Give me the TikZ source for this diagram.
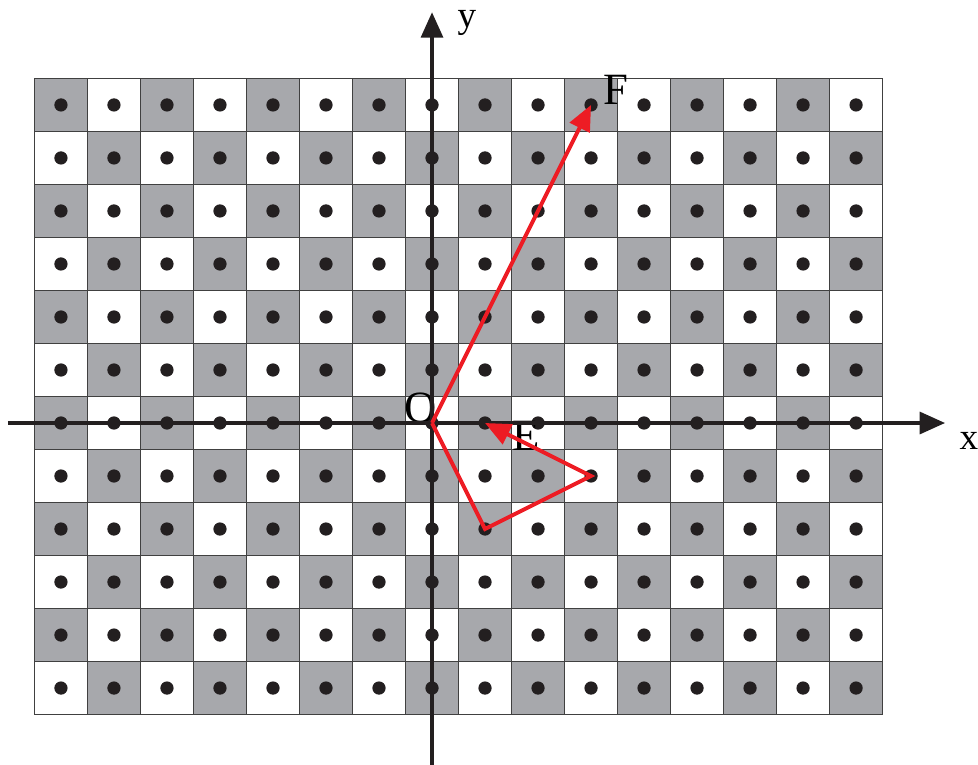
\documentclass[tikz,border=0pt]{standalone}
\usepackage{fontspec}
\setmainfont{Liberation Serif}
\usetikzlibrary{arrows.meta}
\definecolor{cellgray}{HTML}{A7A8AC}
\definecolor{gridline}{HTML}{404040}
\definecolor{dotblack}{HTML}{231F20}
\definecolor{vecred}{HTML}{ED1C24}

\begin{document}
\begin{tikzpicture}[
    cell/.style={draw=gridline, line width=0.8pt},
    dot/.style={circle, fill=dotblack, inner sep=0pt, minimum size=0.25cm},
    axis/.style={-{Triangle[length=0.48cm, width=0.41cm]}, line width=2.1pt, color=dotblack},
    vec/.style={-{Triangle[length=0.48cm, width=0.41cm]}, line width=2.1pt, color=vecred},
    biglbl/.style={font=\fontsize{24}{24}\selectfont, inner sep=0pt},
    axlbl/.style={font=\fontsize{20}{20}\selectfont, inner sep=0pt},
]
  \useasboundingbox (-8.15,-6.45) rectangle (10.3,7.98);

  % === Checkerboard with lattice points ===
  \foreach \i in {-7,...,8}
    \foreach \j in {-5,...,6}{
      \pgfmathtruncatemacro{\odd}{mod(\i+\j+20,2)}
      \ifnum\odd=1 \def\cellfill{cellgray}\else\def\cellfill{white}\fi
      \draw[cell, fill=\cellfill] (\i-0.5,\j-0.5) rectangle ++(1,1);
      \node[dot] (d\i x\j) at (\i,\j) {};
    }

  % === Labels ===
  \node[biglbl] (olbl) at (-0.21,0.28) {O};
  \node[biglbl] (flbl) at (3.47,6.28) {F};
  \node[biglbl] (elbl) at (1.77,-0.24) {E};

  % === Axes ===
  \coordinate (xstart) at (-8.0,0);
  \coordinate (xend) at (9.68,0);
  \coordinate (ystart) at (0,-6.5);
  \coordinate (yend) at (0,7.75);
  \draw[axis] (xstart) -- (xend);
  \draw[axis] (ystart) -- (yend);
  \node[axlbl] (xlbl) at (10.13,-0.34) {x};
  \node[axlbl] (ylbl) at (0.66,7.55) {y};

  % === Vectors ===
  \draw[vec] (d0x0.center) -- (d3x6.center);
  \draw[vec] (d0x0.center) -- (d1x-2.center) -- (d3x-1.center) -- (d1x0.center);
\end{tikzpicture}
\end{document}
